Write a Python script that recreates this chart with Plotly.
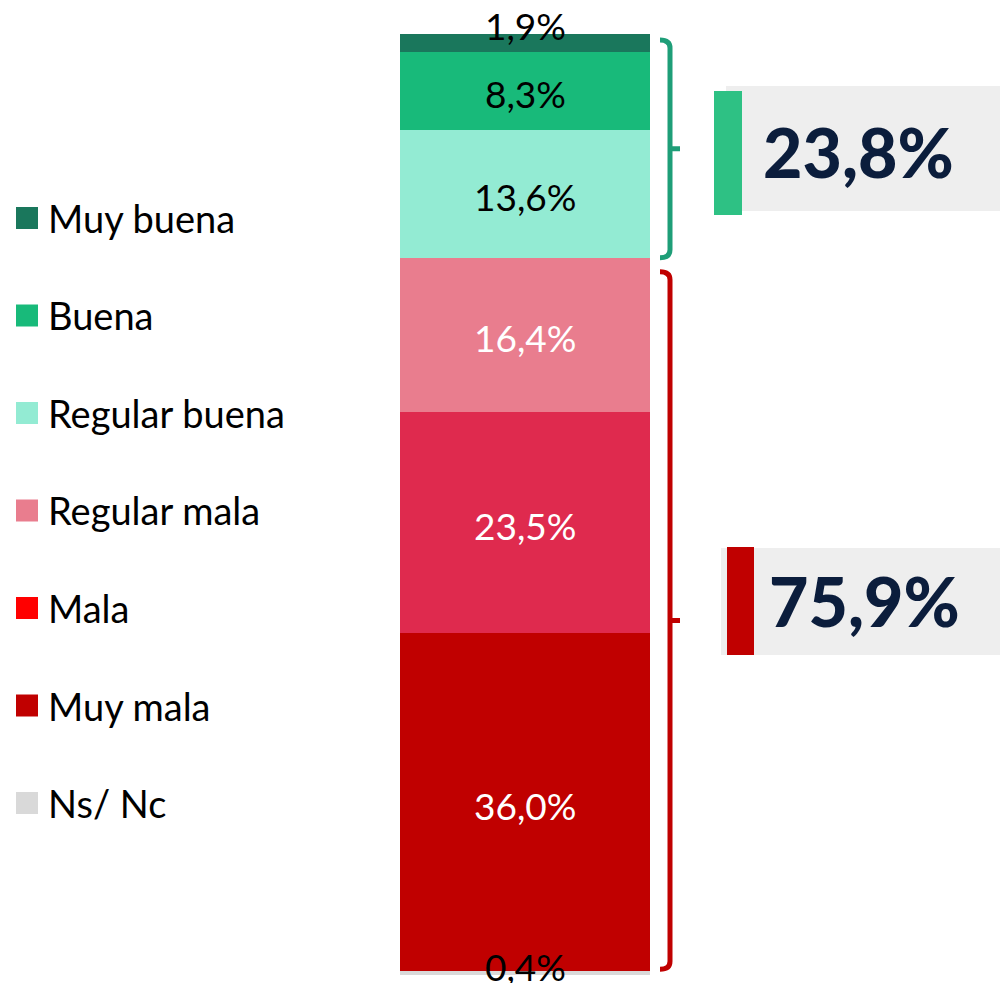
import plotly.graph_objects as go

# ---- data (bottom to top of the stack) ----
categories = ["Ns/ Nc", "Muy mala", "Mala", "Regular mala", "Regular buena", "Buena", "Muy buena"]
values = [0.4, 36.0, 23.5, 16.4, 13.6, 8.3, 1.9]
bar_colors = ["#D9D9D9", "#C00000", "#DF2A4E", "#E97D8E", "#93EBD3", "#18BA7A", "#1A775C"]
legend_colors = ["#D9D9D9", "#C00000", "#FF0000", "#E97D8E", "#93EBD3", "#18BA7A", "#1A775C"]
label_colors = ["#000000", "#FFFFFF", "#FFFFFF", "#FFFFFF", "#000000", "#000000", "#000000"]
positive_group = ["Regular buena", "Buena", "Muy buena"]
negative_group = ["Regular mala", "Mala", "Muy mala"]

W, H = 1000, 983
BAR_X, BAR_W = 525, 250
TOP_PX, BOT_PX = 34, 975
total = sum(values)
ppu = (BOT_PX - TOP_PX) / total
y_lo = -(H - BOT_PX) / ppu
y_hi = total + TOP_PX / ppu

FONT = "Lato"

def fmt(v):
    return f"{v:.1f}".replace(".", ",") + "%"

fig = go.Figure()
for cat, v, c in zip(categories, values, bar_colors):
    fig.add_trace(go.Bar(x=[BAR_X], y=[v], width=BAR_W, name=cat,
                         marker=dict(color=c, line=dict(width=0)),
                         showlegend=False, hoverinfo="skip"))

annotations = []
shapes = []

# bar labels
cum = 0
for cat, v, lc in zip(categories, values, label_colors):
    mid = cum + v / 2
    yshift = -3
    if cat == "Muy buena":
        yshift = 17
    if cat == "Ns/ Nc":
        yshift = 7
    annotations.append(dict(x=BAR_X, y=mid, xref="x", yref="y", text=fmt(v),
                            showarrow=False, yshift=yshift,
                            font=dict(family=FONT, size=37, color=lc)))
    cum += v

# brackets
def bracket(ytop, ybot, color):
    x0, x1, x2 = 660, 670, 680
    dv = 8 / ppu
    ymid = (ytop + ybot) / 2
    path = (f"M {x0},{ytop} Q {x1},{ytop} {x1},{ytop - dv} L {x1},{ybot + dv} "
            f"Q {x1},{ybot} {x0},{ybot} M {x1},{ymid} L {x2},{ymid}")
    return dict(type="path", path=path, xref="x", yref="y",
                line=dict(color=color, width=5))

cum_vals = {}
c = 0
for cat, v in zip(categories, values):
    cum_vals[cat] = (c, c + v)
    c += v

g_top = cum_vals["Muy buena"][1] - 6 / ppu
g_bot = cum_vals["Regular buena"][0]
r_top = cum_vals["Regular mala"][1] - 14 / ppu
r_bot = cum_vals["Muy mala"][0] + 2 / ppu
shapes.append(bracket(g_top, g_bot, "#1E9E78"))
shapes.append(bracket(r_top, r_bot, "#C00000"))

# callouts
def py(p):
    return 1 - p / H

pos_total = sum(values[categories.index(k)] for k in positive_group)
neg_total = sum(values[categories.index(k)] for k in negative_group)

callouts = [
    dict(box=(726, 86, 1000, 211), acc=(714, 91, 742, 215), acc_color="#2EC184",
         text=fmt(pos_total), tx=761, ty=152),
    dict(box=(721, 548, 1000, 655), acc=(727, 547, 754, 655), acc_color="#C00000",
         text=fmt(neg_total), tx=767, ty=600),
]
for co in callouts:
    bx0, by0, bx1, by1 = co["box"]
    shapes.append(dict(type="rect", xref="x", yref="paper", x0=bx0, x1=bx1,
                       y0=py(by1), y1=py(by0), fillcolor="#EEEEEE", line=dict(width=0), layer="below"))
    ax0, ay0, ax1, ay1 = co["acc"]
    shapes.append(dict(type="rect", xref="x", yref="paper", x0=ax0, x1=ax1,
                       y0=py(ay1), y1=py(ay0), fillcolor=co["acc_color"], line=dict(width=0)))
    annotations.append(dict(x=co["tx"], y=py(co["ty"]), xref="x", yref="paper",
                            xanchor="left", yanchor="middle", text=co["text"], showarrow=False,
                            font=dict(family=FONT, size=68, color="#0B1D3C", weight=900)))

# manual legend (top to bottom)
leg_y0, leg_dy = 218, 97.5
for i, (cat, col) in enumerate(zip(categories[::-1], legend_colors[::-1])):
    yc = leg_y0 + i * leg_dy
    shapes.append(dict(type="rect", xref="x", yref="paper", x0=16, x1=38,
                       y0=py(yc + 11), y1=py(yc - 11), fillcolor=col, line=dict(width=0)))
    annotations.append(dict(x=46, y=py(yc), xref="x", yref="paper", xanchor="left",
                            yanchor="middle", text=cat, showarrow=False,
                            font=dict(family=FONT, size=38, color="#000000")))

fig.update_layout(
    width=W, height=H, barmode="stack", bargap=0,
    margin=dict(l=0, r=0, t=0, b=0),
    paper_bgcolor="white", plot_bgcolor="white",
    xaxis=dict(range=[0, W], visible=False, fixedrange=True),
    yaxis=dict(range=[y_lo, y_hi], visible=False, fixedrange=True),
    annotations=annotations, shapes=shapes, showlegend=False,
)

fig.write_html("out.html", config={"displayModeBar": False},
               post_script="document.body.style.margin='0px';document.body.style.overflow='hidden';")
